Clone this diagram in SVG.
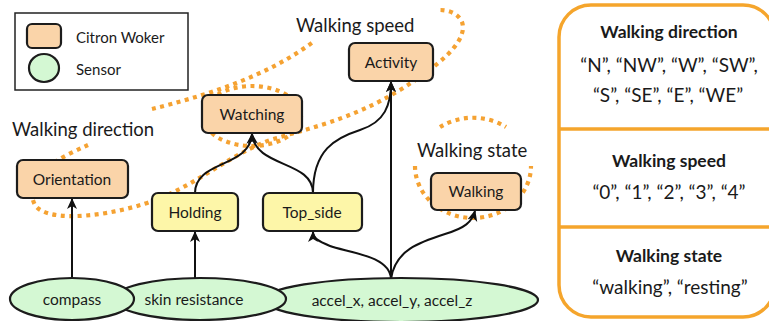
<svg xmlns="http://www.w3.org/2000/svg" width="769" height="321" viewBox="0 0 769 321">
  <defs>
    <marker id="arrow" markerUnits="userSpaceOnUse" markerWidth="12" markerHeight="11" refX="10" refY="5" orient="auto">
      <path d="M0,0 L11,5 L0,10 L3,5 z" fill="#111"/>
    </marker>
    <style>
      text { font-family: "Lato", "Open Sans", "Liberation Sans", sans-serif; fill: #1a1a1a; }
      .worker { fill: #fad4a9; stroke: #1c1c1c; stroke-width: 2.2; }
      .inner { fill: #fdf6a8; stroke: #1c1c1c; stroke-width: 2.2; }
      .sensor { fill: #d4f8d3; stroke: #1c1c1c; stroke-width: 2.2; }
      .label { font-size: 15.5px; text-anchor: middle; }
      .group { font-size: 18.5px; }
      .dots { fill: none; stroke: #f5a232; stroke-width: 4.2; stroke-dasharray: 4 4.5; }
      .edge { fill: none; stroke: #111; stroke-width: 2; marker-end: url(#arrow); }
      .panel { fill: none; stroke: #f5a52c; stroke-width: 3.5; }
      .ph { font-size: 17.5px; font-weight: bold; text-anchor: middle; }
      .pv { font-size: 19px; text-anchor: middle; }
    </style>
  </defs>

  <!-- legend -->
  <g id="legend">
    <rect x="15" y="13" width="173" height="77" fill="#fff" stroke="#222" stroke-width="1.5"/>
    <rect x="27" y="24" width="34" height="24" rx="5" class="worker"/>
    <text x="76" y="43" font-size="15">Citron Woker</text>
    <ellipse cx="44" cy="68" rx="15" ry="14" class="sensor"/>
    <text x="76" y="75" font-size="15">Sensor</text>
  </g>

  <!-- dotted group outlines -->
  <g id="groups">
    <path class="dots" d="M88,145 C60,158 20,175 35,205 C48,225 120,215 160,198 C200,182 230,155 270,140 C310,128 350,120 400,90 C440,65 462,45 463,28 C463,15 450,10 440,10"/>
    <path class="dots" d="M152,109 C200,97 265,78 313,42"/>
    <ellipse class="dots" cx="252" cy="116" rx="49" ry="30"/>
    <path class="dots" d="M440,127 A58,52 0 0 1 506,127"/>
    <path class="dots" d="M415,166 A58,52 0 1 0 531,166"/>
    <text class="group" x="12" y="136">Walking direction</text>
    <text class="group" x="296" y="32">Walking speed</text>
    <text class="group" x="417" y="157">Walking state</text>
  </g>

  <!-- connectors -->
  <g id="connectors">
    <path class="edge" d="M72,279 L72,199"/>
    <path class="edge" d="M195,280 L195,232"/>
    <path class="edge" d="M195,193 C195,160 250,168 252,134"/>
    <path class="edge" d="M313,193 C313,160 255,168 252,134"/>
    <path class="edge" d="M313,193 C313,150 335,138 360,130 S391,105 391,82"/>
    <path class="edge" d="M391,279 L391,82"/>
    <path class="edge" d="M391,279 C390,255 345,252 330,246 C318,241 313,238 313,232"/>
    <path class="edge" d="M391,279 C395,250 420,242 445,234 C465,228 472,222 475,211"/>
  </g>

  <!-- sensors -->
  <g id="accel">
    <ellipse cx="401" cy="300" rx="137" ry="22" class="sensor"/>
    <text class="label" x="392" y="306">accel_x, accel_y, accel_z</text>
  </g>
  <g id="skin">
    <ellipse cx="200" cy="299" rx="86" ry="21" class="sensor"/>
    <text class="label" x="194" y="305">skin resistance</text>
  </g>
  <g id="compass">
    <ellipse cx="72" cy="299" rx="62" ry="21" class="sensor"/>
    <text class="label" x="72" y="305">compass</text>
  </g>

  <!-- inner workers -->
  <g id="holding">
    <rect x="152" y="193" width="86" height="38" rx="6" class="inner"/>
    <text class="label" x="195" y="218">Holding</text>
  </g>
  <g id="topside">
    <rect x="263" y="193" width="99" height="38" rx="6" class="inner"/>
    <text class="label" x="312" y="218">Top_side</text>
  </g>

  <!-- output workers -->
  <g id="orientation">
    <rect x="17" y="160" width="111" height="38" rx="6" class="worker"/>
    <text class="label" x="72" y="185">Orientation</text>
  </g>
  <g id="watching">
    <rect x="202" y="95" width="100" height="38" rx="6" class="worker"/>
    <text class="label" x="252" y="120">Watching</text>
  </g>
  <g id="activity">
    <rect x="349" y="43" width="84" height="38" rx="6" class="worker"/>
    <text class="label" x="391" y="68">Activity</text>
  </g>
  <g id="walking">
    <rect x="431" y="173" width="90" height="37" rx="6" class="worker"/>
    <text class="label" x="476" y="197">Walking</text>
  </g>

  <!-- value table -->
  <g id="values">
    <rect x="559" y="5" width="216" height="312" rx="32" class="panel"/>
    <line x1="559" y1="129" x2="775" y2="129" class="panel"/>
    <line x1="559" y1="227" x2="775" y2="227" class="panel"/>
    <text class="ph" x="669" y="38">Walking direction</text>
    <text class="pv" x="669" y="72">“N”, “NW”, “W”, “SW”,</text>
    <text class="pv" x="668" y="102">“S”, “SE”, “E”, “WE”</text>
    <text class="ph" x="669" y="167">Walking speed</text>
    <text class="pv" x="669" y="199">“0”, “1”, “2”, “3”, “4”</text>
    <text class="ph" x="669" y="262">Walking state</text>
    <text class="pv" x="670" y="294">“walking”, “resting”</text>
  </g>
</svg>
